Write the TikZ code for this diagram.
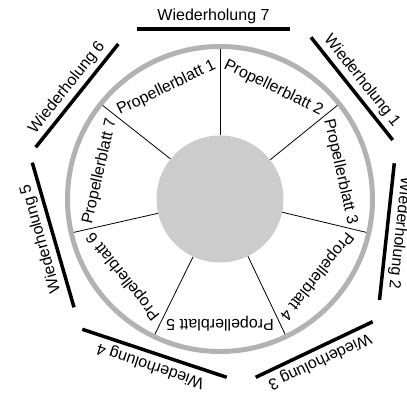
\documentclass[tikz,border=0pt]{standalone}
\usepackage{fontspec}
\setmainfont{Liberation Sans}
\usepackage{xcolor}
\definecolor{ringgray}{HTML}{B2B2B2}
\definecolor{hubgray}{HTML}{CCCCCC}

\begin{document}
\begin{tikzpicture}[x=1pt,y=1pt,
  point/.style={coordinate},
  hub/.style={circle, fill=hubgray, draw=none, inner sep=0pt, minimum size=127pt},
  spoke/.style={draw=black, line width=0.8pt},
  ring/.style={draw=ringgray, line width=5pt},
  repline/.style={draw=black, line width=3.5pt},
  blade/.style={anchor=north, inner sep=0pt, font=\fontsize{16}{19}\selectfont},
  replabel/.style={midway, sloped, allow upside down, above=3.5pt, inner sep=0pt, font=\fontsize{16}{19}\selectfont}]
\useasboundingbox (-220,-199) rectangle (187,199);

\node[hub] (hub) at (0,0) {};
\draw[ring] (0,0) circle (152.5pt);

\node[point] (s1) at (90:150) {};
\node[point] (s2) at (38.571:150) {};
\node[point] (s3) at (-12.857:150) {};
\node[point] (s4) at (-64.286:150) {};
\node[point] (s5) at (-115.714:150) {};
\node[point] (s6) at (-167.143:150) {};
\node[point] (s7) at (141.429:150) {};
\draw[spoke] (hub.90) -- (s1);
\draw[spoke] (hub.38.571) -- (s2);
\draw[spoke] (hub.-12.857) -- (s3);
\draw[spoke] (hub.-64.286) -- (s4);
\draw[spoke] (hub.-115.714) -- (s5);
\draw[spoke] (hub.-167.143) -- (s6);
\draw[spoke] (hub.141.429) -- (s7);

\node[blade, rotate=25.714] (pb1) at (115.714:131) {Propellerblatt 1};
\node[blade, rotate=-25.714] (pb2) at (64.286:131) {Propellerblatt 2};
\node[blade, rotate=-77.143] (pb3) at (12.857:131) {Propellerblatt 3};
\node[blade, rotate=-128.571] (pb4) at (-38.571:131) {Propellerblatt 4};
\node[blade, rotate=180] (pb5) at (-90:132) {Propellerblatt 5};
\node[blade, rotate=128.571] (pb6) at (-141.429:131) {Propellerblatt 6};
\node[blade, rotate=77.143] (pb7) at (167.143:131) {Propellerblatt 7};

% Wiederholungen, im Uhrzeigersinn
\node[point] (w7a) at (-83,170) {};
\node[point] (w7b) at (70,170) {};
\node[point] (w1a) at (91,161.7) {};
\node[point] (w1b) at (172.7,59) {};
\node[point] (w2a) at (174.3,35.7) {};
\node[point] (w2b) at (159.5,-101) {};
\node[point] (w3a) at (152.7,-122.7) {};
\node[point] (w3b) at (35.7,-178.3) {};
\node[point] (w4a) at (6.7,-178.3) {};
\node[point] (w4b) at (-137.7,-130.3) {};
\node[point] (w5a) at (-146,-108.3) {};
\node[point] (w5b) at (-187.7,36.3) {};
\node[point] (w6a) at (-184.3,51.7) {};
\node[point] (w6b) at (-101.7,155) {};
\draw[repline] (w7a) -- node[replabel] {Wiederholung 7} (w7b);
\draw[repline] (w1a) -- node[replabel] {Wiederholung 1} (w1b);
\draw[repline] (w2a) -- node[replabel] {Wiederholung 2} (w2b);
\draw[repline] (w3a) -- node[replabel] {Wiederholung 3} (w3b);
\draw[repline] (w4a) -- node[replabel] {Wiederholung 4} (w4b);
\draw[repline] (w5a) -- node[replabel] {Wiederholung 5} (w5b);
\draw[repline] (w6a) -- node[replabel] {Wiederholung 6} (w6b);
\end{tikzpicture}
\end{document}
